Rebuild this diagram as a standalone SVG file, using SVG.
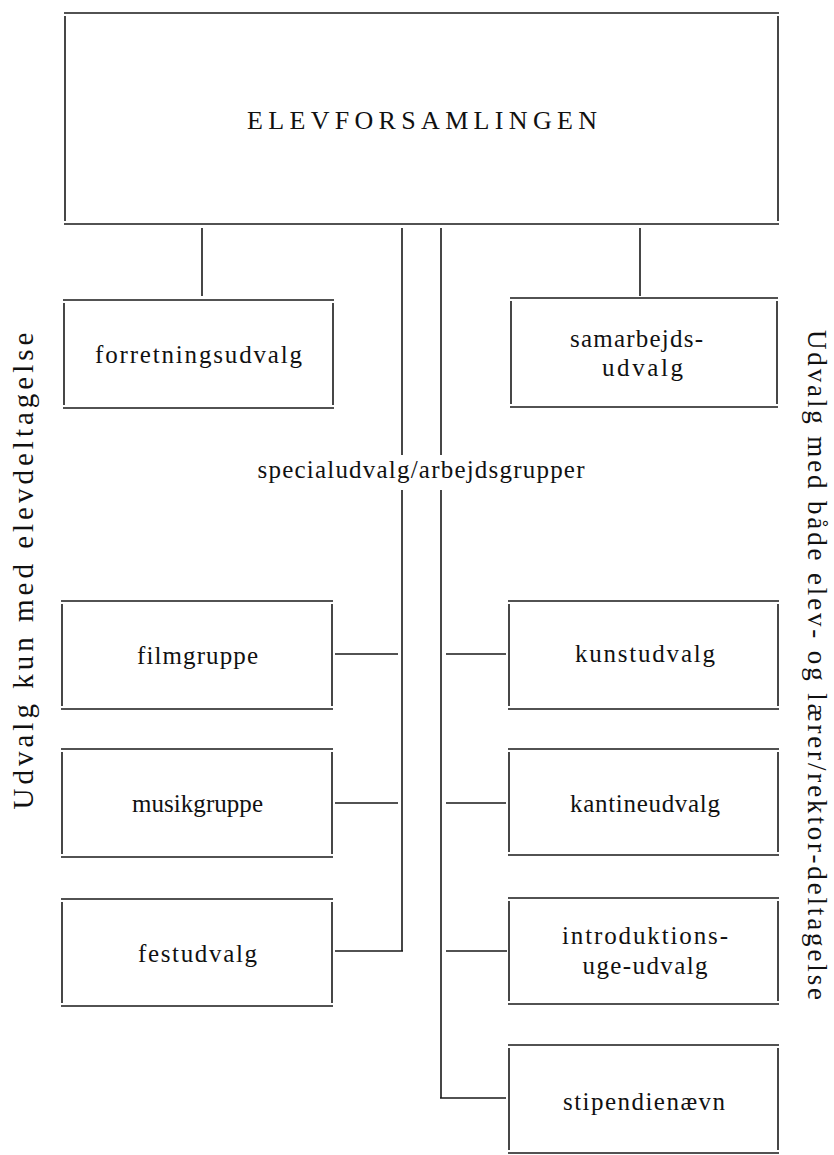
<svg xmlns="http://www.w3.org/2000/svg" width="834" height="1155" viewBox="0 0 834 1155">
<style>
.ln{stroke:#1a1a1a;stroke-width:1.6;fill:none;stroke-linecap:butt}
.t{font-family:"Liberation Serif","Times New Roman",serif;font-size:25px;fill:#111;text-anchor:middle}
.cap{font-size:26px}
.sl{font-size:29px}
.sr{font-size:27px}
</style>
<rect width="834" height="1155" fill="#fff"/>
<g id="elevforsamlingen">
<path class="ln" d="M64 13H779M64 224H779M65 16V221M778 16V221"/>
<text class="t cap" x="422" y="129" textLength="350" lengthAdjust="spacing">ELEVFORSAMLINGEN</text>
</g>
<g id="forretningsudvalg">
<path class="ln" d="M63 300H334M63 408H334M64 303V405M333 303V405"/>
<text class="t" x="198.5" y="363" textLength="207" lengthAdjust="spacing">forretningsudvalg</text>
</g>
<g id="samarbejdsudvalg">
<path class="ln" d="M510 298H778M510 407H778M511 301V404M777 301V404"/>
<text class="t" x="636.5" y="347" textLength="133" lengthAdjust="spacing">samarbejds-</text>
<text class="t" x="642.5" y="376" textLength="81" lengthAdjust="spacing">udvalg</text>
</g>
<g id="specialudvalg">
<text class="t" x="421" y="478" textLength="327" lengthAdjust="spacing">specialudvalg/arbejdsgrupper</text>
</g>
<g id="filmgruppe">
<path class="ln" d="M61 601H333M61 709H333M62 604V706M332 604V706"/>
<text class="t" x="197.5" y="664" textLength="121" lengthAdjust="spacing">filmgruppe</text>
</g>
<g id="musikgruppe">
<path class="ln" d="M61 749H333M61 857H333M62 752V854M332 752V854"/>
<text class="t" x="197.5" y="812" textLength="131" lengthAdjust="spacing">musikgruppe</text>
</g>
<g id="festudvalg">
<path class="ln" d="M61 899H333M61 1006H333M62 902V1003M332 902V1003"/>
<text class="t" x="197.5" y="962" textLength="119" lengthAdjust="spacing">festudvalg</text>
</g>
<g id="kunstudvalg">
<path class="ln" d="M508 601H779M508 709H779M509 604V706M778 604V706"/>
<text class="t" x="645" y="662" textLength="140" lengthAdjust="spacing">kunstudvalg</text>
</g>
<g id="kantineudvalg">
<path class="ln" d="M508 749H779M508 855H779M509 752V852M778 752V852"/>
<text class="t" x="645" y="812" textLength="150" lengthAdjust="spacing">kantineudvalg</text>
</g>
<g id="introduktionsugeudvalg">
<path class="ln" d="M508 898H779M508 1004H779M509 901V1001M778 901V1001"/>
<text class="t" x="645" y="944" textLength="166" lengthAdjust="spacing">introduktions-</text>
<text class="t" x="645" y="974" textLength="125" lengthAdjust="spacing">uge-udvalg</text>
</g>
<g id="stipendienaevn">
<path class="ln" d="M508 1045H779M508 1153H779M509 1048V1150M778 1048V1150"/>
<text class="t" x="644" y="1110" textLength="162" lengthAdjust="spacing">stipendienævn</text>
</g>
<g id="connectors">
<path class="ln" d="M202 228V296M640 228V296M402 228V455M441 228V455M402 490V951M441 490V1098M335 654H398M335 803H398M335 951H403M446 654H506M446 803H506M446 951H507M440 1098H506"/>
</g>
<g id="side-labels">
<text class="t sl" transform="translate(33,571) rotate(-90)" textLength="477" lengthAdjust="spacing">Udvalg kun med elevdeltagelse</text>
<text class="t sr" transform="translate(808,665) rotate(90)" textLength="670" lengthAdjust="spacing">Udvalg med både elev- og lærer/rektor-deltagelse</text>
</g>
</svg>
